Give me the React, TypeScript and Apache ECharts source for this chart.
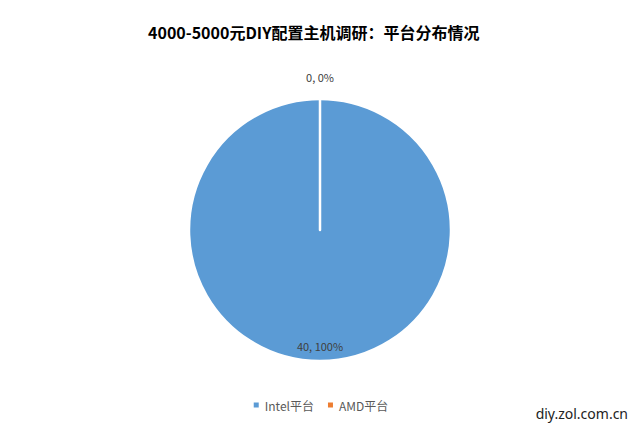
import React, { useEffect, useRef } from "react";
import * as echarts from "echarts";

const titleText = "4000-5000元DIY配置主机调研：平台分布情况";
const categories = ["Intel平台", "AMD平台"];
const values = [40, 0];
const colors = ["#5B9BD5", "#ED7D31"];
const watermark = "diy.zol.com.cn";

export default function App() {
  const ref = useRef<HTMLDivElement>(null);
  useEffect(() => {
    if (!ref.current) return;
    const chart = echarts.init(ref.current, null, { renderer: "svg" });
    const font = "'Noto Sans CJK SC', 'Noto Sans', sans-serif";
    chart.setOption({
      animation: false,
      backgroundColor: "#ffffff",
      title: {
        text: titleText,
        left: 143,
        top: 19,
        textStyle: { fontFamily: font, fontSize: 16, fontWeight: "bold", color: "#000000" },
      },
      legend: {
        bottom: 8,
        left: "center",
        icon: "rect",
        itemWidth: 7,
        itemHeight: 7,
        itemGap: 12,
        textStyle: { fontFamily: font, fontSize: 12, color: "#595959" },
        data: categories,
      },
      graphic: [
        {
          type: "text",
          right: 12,
          bottom: 4,
          style: { text: watermark, font: "14px 'Noto Sans', sans-serif", fill: "#222222" },
        },
      ],
      series: [
        {
          type: "pie",
          center: [320, 230],
          radius: [0, 131],
          startAngle: 90,
          clockwise: true,
          avoidLabelOverlap: false,
          itemStyle: { borderColor: "#ffffff", borderWidth: 2.5 },
          label: {
            show: true,
            position: "inside",
            formatter: (p: any) => {
              const t = `{t|${p.value}, ${Math.round(p.percent)}%}`;
              // Excel-style placement: shift labels along the radius with spacer lines
              return p.dataIndex === 0 ? `{down| }\n${t}` : `${t}\n{up| }`;
            },
            rich: {
              t: { fontFamily: font, fontSize: 11, color: "#404040", lineHeight: 13 },
              down: { fontSize: 1, lineHeight: 94 },
              up: { fontSize: 1, lineHeight: 170 },
            },
          },
          labelLine: { show: false },
          emphasis: { disabled: true },
          data: categories.map((name, i) => ({
            name,
            value: values[i],
            itemStyle: { color: colors[i] },
          })),
        },
      ],
    });
    return () => chart.dispose();
  }, []);
  return (
    <div
      ref={ref}
      style={{ position: "absolute", left: 0, top: 0, width: 640, height: 424 }}
    />
  );
}
